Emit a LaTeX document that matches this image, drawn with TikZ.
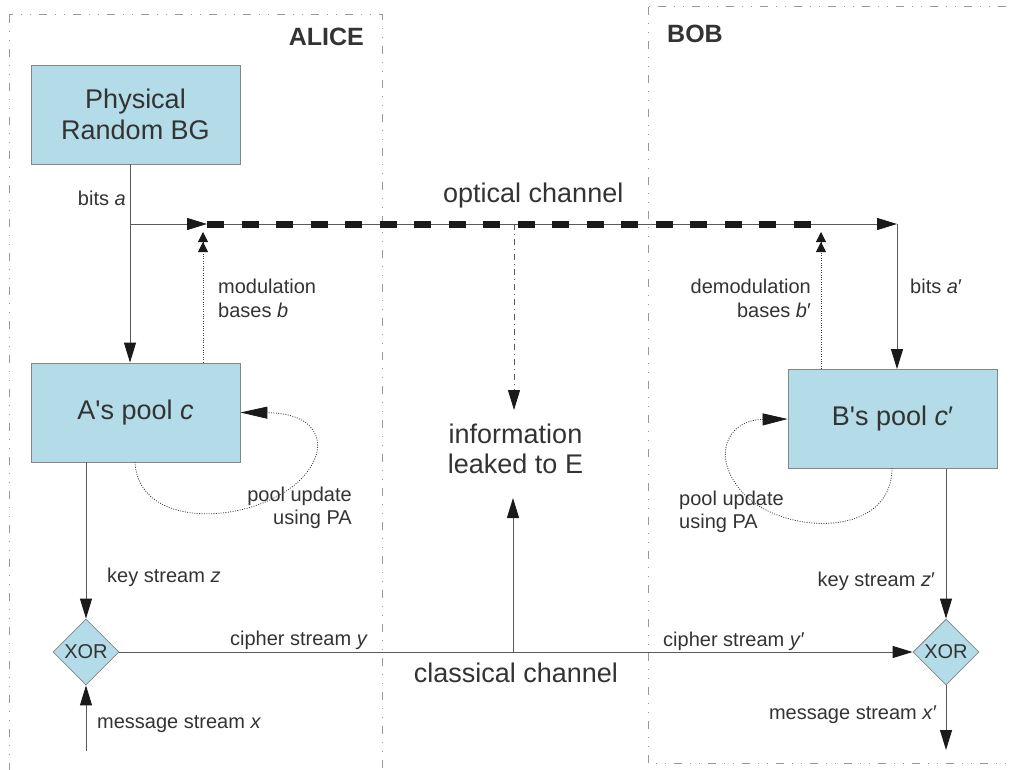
\documentclass[tikz,border=0pt]{standalone}
\usepackage{fontspec}
\setmainfont{Liberation Sans}
\usetikzlibrary{arrows.meta,shapes.geometric}
\newcommand\sq{\XeTeXglyph\the\XeTeXcharglyph"27\relax}
\definecolor{boxfill}{HTML}{B3DCE8}
\definecolor{boxline}{HTML}{858585}
\definecolor{txt}{HTML}{333333}
\definecolor{ln}{HTML}{5A5A5A}
\definecolor{framec}{HTML}{999999}
\definecolor{tipc}{HTML}{1A1A1A}
\tikzset{
  procbox/.style={draw=boxline, fill=boxfill, line width=0.8pt, minimum width=209pt, minimum height=99pt, inner sep=0pt, text=txt, font=\fontsize{27}{31}\selectfont, align=center},
  xorbox/.style={diamond, draw=boxline, fill=boxfill, line width=0.8pt, minimum width=66pt, minimum height=66pt, inner sep=0pt, text=txt, font=\fontsize{20}{23}\selectfont},
  lab/.style={text=txt, font=\fontsize{20}{24}\selectfont, inner sep=0pt},
  biglab/.style={text=txt, font=\fontsize{27}{31}\selectfont, inner sep=0pt},
  titlelab/.style={text=txt, font=\fontsize{25}{30}\selectfont\bfseries, inner sep=0pt},
  plainline/.style={draw=ln, line width=1pt},
  arr/.style={draw=ln, line width=1pt, -{Triangle[length=20pt,width=12pt,color=tipc]}},
  dotline/.style={draw=black!75, line width=0.8pt, dash pattern=on 1pt off 1.4pt},
  dblarr/.style={-{Triangle[length=10pt,width=10pt,color=tipc] Triangle[length=10pt,width=10pt,color=tipc]}},
  evelinestyle/.style={draw=ln, line width=0.9pt, dash pattern=on 6pt off 4pt on 1pt off 4pt},
  framestyle/.style={draw=framec, line width=1pt, dash pattern=on 8pt off 8pt on 1pt off 8pt on 1pt off 8pt},
  optdash/.style={draw=tipc, line width=7pt, dash pattern=on 17pt off 17.5pt}
}
\begin{document}
\begin{tikzpicture}[x=1pt,y=-1pt]
\useasboundingbox (0,0) rectangle (1011,770);
\clip (0,0) rectangle (1011,770);

% frames
\draw[framestyle] (9,15) rectangle (382,800);
\draw[framestyle] (648,7) rectangle (1040,763);
\node[titlelab, anchor=base east] (alice) at (364,46) {ALICE};
\node[titlelab, anchor=base west] (bob) at (667,43) {BOB};

% boxes
\node[procbox] (prbg) at (135.5,114.5) {Physical\\Random BG};
\node[procbox] (apool) at (135.5,412.5) {A\sq s pool \textit{c}};
\node[procbox] (bpool) at (892.5,419) {B\sq s pool \textit{c}′};
\node[xorbox] (xa) at (86,652) {XOR};
\node[xorbox] (xb) at (946,652) {XOR};

% coordinates
\coordinate (j1) at (130,224);
\coordinate (oS) at (207,224);
\coordinate (oD) at (811,224);
\coordinate (oE) at (897,224);
\coordinate (mA) at (203,232);
\coordinate (mB) at (821,232);
\coordinate (eT) at (514,224);
\coordinate (eB) at (514,410);
\coordinate (cT) at (513,652);
\coordinate (cB) at (513,498);
\coordinate (ma) at (86,751);
\coordinate (mb) at (946,750);
\coordinate (la) at (135,462);
\coordinate (lb) at (892,468);

% optical channel
\draw[plainline] (prbg.south -| j1) -- (j1);
\draw[arr] (j1) -- (apool.north -| j1);
\draw[arr] (j1) -- (oS);
\draw[arr] (oS) -- (oE);
\draw[optdash] (oS) -- (oD);
\draw[arr] (oE) -- (bpool.north -| oE);
\draw[dotline, dblarr] (apool.north -| mA) -- (mA);
\draw[dotline, dblarr] (bpool.north -| mB) -- (mB);

% eve
\draw[evelinestyle, -{Triangle[length=20pt,width=12pt,color=tipc]}] (eT) -- (eB);
\draw[arr] (cT) -- (cB);

% pool loops
\draw[dotline, -{Triangle[length=27pt,width=12pt,color=tipc]}] (la) .. controls (138,530) and (250,525) .. (298,482) .. controls (332,450) and (322,413) .. (apool.east);
\draw[dotline, -{Triangle[length=25pt,width=12pt,color=tipc]}] (lb) .. controls (892,540) and (780,535) .. (742,492) .. controls (710,455) and (728,420) .. (bpool.west);

% key streams, cipher, message
\draw[arr] (apool.south -| xa) -- (xa.north);
\draw[arr] (bpool.south -| xb) -- (xb.north);
\draw[arr] (xa.east) -- (xb.west);
\draw[arr] (ma) -- (xa.south);
\draw[arr] (xb.south) -- (mb);

% labels
\node[lab, anchor=base east] (lbitsa) at (126,205) {bits \textit{a}};
\node[biglab, anchor=base west] (lopt) at (443,202) {optical channel};
\node[lab, anchor=base west] (lmod1) at (218,293) {modulation};
\node[lab, anchor=base west] (lmod2) at (218,317) {bases \textit{b}};
\node[lab, anchor=base east] (ldem1) at (811,293) {demodulation};
\node[lab, anchor=base east] (ldem2) at (811,317) {bases \textit{b}′};
\node[lab, anchor=base west] (lbitsb) at (910,293) {bits \textit{a}′};
\node[biglab, anchor=base] (linfo1) at (515.5,443) {information};
\node[biglab, anchor=base] (linfo2) at (515.5,473) {leaked to E};
\node[lab, anchor=base east] (lpa1) at (352,501) {pool update};
\node[lab, anchor=base east] (lpa2) at (352,524) {using PA};
\node[lab, anchor=base west] (lpb1) at (679,505) {pool update};
\node[lab, anchor=base west] (lpb2) at (679,528) {using PA};
\node[lab, anchor=base west] (lkza) at (107,582) {key stream \textit{z}};
\node[lab, anchor=base east] (lkzb) at (935,586) {key stream \textit{z}′};
\node[lab, anchor=base east] (lcya) at (368,645) {cipher stream \textit{y}};
\node[lab, anchor=base west] (lcyb) at (663,646) {cipher stream \textit{y}′};
\node[biglab, anchor=base] (lclass) at (516,682) {classical channel};
\node[lab, anchor=base west] (lmxa) at (97,728) {message stream \textit{x}};
\node[lab, anchor=base east] (lmxb) at (937,719) {message stream \textit{x}′};
\end{tikzpicture}
\end{document}
